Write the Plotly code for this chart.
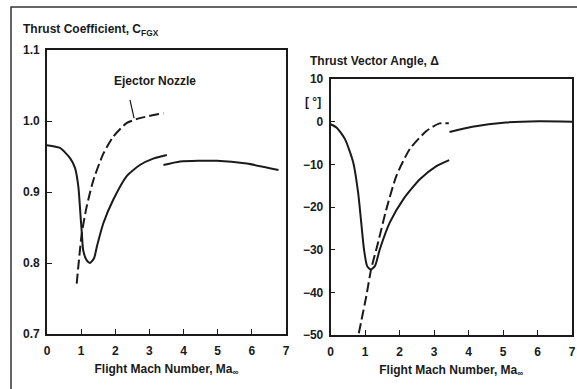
import plotly.graph_objects as go

# ---------------- data ----------------
# Left panel: thrust coefficient C_FGX vs flight Mach number
cfg_low_x = [0.0, 0.38, 0.67, 0.82, 0.92, 0.97, 1.02, 1.06, 1.16, 1.26, 1.38, 1.46, 1.65, 1.94, 2.33, 2.72, 3.11, 3.51]
cfg_low_y = [0.966, 0.962, 0.948, 0.934, 0.907, 0.875, 0.842, 0.818, 0.804, 0.800, 0.807, 0.823, 0.856, 0.889, 0.922, 0.938, 0.947, 0.952]
cfg_high_x = [3.41, 3.9, 4.97, 5.85, 6.78]
cfg_high_y = [0.938, 0.943, 0.944, 0.940, 0.931]
cfg_ej_x = [0.87, 1.02, 1.16, 1.36, 1.65, 1.94, 2.33, 2.72, 3.41]
cfg_ej_y = [0.771, 0.842, 0.879, 0.917, 0.954, 0.978, 0.997, 1.004, 1.011]

# Right panel: thrust vector angle (deg) vs flight Mach number
tva_low_x = [0.0, 0.18, 0.42, 0.66, 0.80, 0.90, 0.97, 1.06, 1.16, 1.29, 1.43, 1.72, 2.11, 2.59, 3.07, 3.44]
tva_low_y = [-0.6, -1.4, -4.1, -9.6, -16.6, -24.4, -29.9, -33.8, -34.7, -33.8, -29.9, -23.6, -18.2, -13.5, -10.4, -9.0]
tva_high_x = [3.45, 4.11, 5.08, 6.04, 7.0]
tva_high_y = [-2.4, -1.2, -0.2, 0.1, 0.0]
tva_ej_x = [0.82, 1.04, 1.18, 1.38, 1.62, 1.91, 2.30, 2.78, 3.16, 3.43]
tva_ej_y = [-49.6, -40.8, -34.5, -28.3, -20.5, -12.7, -6.4, -2.2, -0.4, -0.4]

x_ticks = [0, 1, 2, 3, 4, 5, 6, 7]
cfg_ticks = [0.7, 0.8, 0.9, 1.0, 1.1]
tva_ticks = [-50, -40, -30, -20, -10, 0, 10]

ejector_label = "Ejector Nozzle"
leader_start = (2.43, 1.0296)
leader_end = (2.55, 1.0042)

# ---------------- styling ----------------
W, H = 577, 389
INK = "#1a1a1a"
FONT = "Liberation Sans Narrow, Liberation Sans, Arial, sans-serif"
LW = 2.0


def px(x):
    return x / W


def py(y):
    return 1 - y / H


fig = go.Figure()

line_solid = dict(color=INK, width=LW, shape="spline", smoothing=0.6)
line_dash = dict(color=INK, width=LW, dash="10px,4px", shape="spline", smoothing=0.6)

fig.add_trace(go.Scatter(x=cfg_low_x, y=cfg_low_y, mode="lines", line=line_solid, xaxis="x", yaxis="y"))
fig.add_trace(go.Scatter(x=cfg_high_x, y=cfg_high_y, mode="lines", line=line_solid, xaxis="x", yaxis="y"))
fig.add_trace(go.Scatter(x=cfg_ej_x, y=cfg_ej_y, mode="lines", line=line_dash, xaxis="x", yaxis="y"))

fig.add_trace(go.Scatter(x=tva_low_x, y=tva_low_y, mode="lines", line=line_solid, xaxis="x2", yaxis="y2"))
fig.add_trace(go.Scatter(x=tva_high_x, y=tva_high_y, mode="lines", line=line_solid, xaxis="x2", yaxis="y2"))
fig.add_trace(go.Scatter(x=tva_ej_x, y=tva_ej_y, mode="lines", line=line_dash, xaxis="x2", yaxis="y2"))

tickfont = dict(family=FONT, size=12, color=INK, weight="bold")
axis_common = dict(
    showline=True, linecolor=INK, linewidth=1.6, mirror=True,
    ticks="inside", ticklen=5, tickwidth=1.2, tickcolor=INK,
    showgrid=False, zeroline=False, tickfont=tickfont, fixedrange=True,
    automargin=False,
)
xtitle = dict(text="Flight Mach Number, Ma<sub>∞</sub>",
              font=dict(family=FONT, size=12, color=INK, weight="bold"), standoff=7)

fig.update_layout(
    width=W, height=H,
    margin=dict(l=0, r=0, t=0, b=0, autoexpand=False),
    paper_bgcolor="white", plot_bgcolor="white",
    showlegend=False,
    xaxis=dict(domain=[px(47), px(286)], range=[0, 7], tickvals=x_ticks,
               anchor="y", title=xtitle, ticklabelstandoff=5, **axis_common),
    yaxis=dict(domain=[py(334), py(50)], range=[0.7, 1.1], tickvals=cfg_ticks,
               tickformat=".1f", anchor="x", ticklabelstandoff=3, **axis_common),
    xaxis2=dict(domain=[px(330.5), px(572)], range=[0, 7], tickvals=x_ticks,
                anchor="y2", title=xtitle, ticklabelstandoff=5, **axis_common),
    yaxis2=dict(domain=[py(335), py(79)], range=[-50, 10], tickvals=tva_ticks,
                anchor="x2", ticklabelstandoff=3, **axis_common),
)

title_font = dict(family=FONT, size=12, color=INK, weight="bold")
fig.add_annotation(x=px(21), y=py(30), xref="paper", yref="paper", xanchor="left", yanchor="middle",
                   text="Thrust Coefficient, C<sub>FGX</sub>", showarrow=False, font=title_font)
fig.add_annotation(x=px(308), y=py(61), xref="paper", yref="paper", xanchor="left", yanchor="middle",
                   text="Thrust Vector Angle, Δ", showarrow=False, font=title_font)
fig.add_annotation(x=px(323), y=py(102), xref="paper", yref="paper", xanchor="right", yanchor="middle",
                   text="[ °]", showarrow=False, font=tickfont)
fig.add_annotation(x=3.15, y=1.056, xref="x", yref="y", xanchor="center", yanchor="middle",
                   text=ejector_label, showarrow=False, font=title_font)

# leader line from label to ejector curve
fig.add_shape(type="line", xref="x", yref="y",
              x0=leader_start[0], y0=leader_start[1], x1=leader_end[0], y1=leader_end[1],
              line=dict(color=INK, width=1.2))

# outer frame (top and left edges visible)
fig.add_shape(type="rect", xref="paper", yref="paper",
              x0=px(11), y0=-0.05, x1=1.05, y1=py(7),
              line=dict(color="#333333", width=1.5))

fig.write_html("out.html", config={"displayModeBar": False})

# remove the browser's default page margin so the figure sits at (0, 0)
with open("out.html", "r", encoding="utf-8") as f:
    html = f.read()
html = html.replace("<head>", "<head><style>html,body{margin:0;padding:0;overflow:hidden;}</style>", 1)
with open("out.html", "w", encoding="utf-8") as f:
    f.write(html)
